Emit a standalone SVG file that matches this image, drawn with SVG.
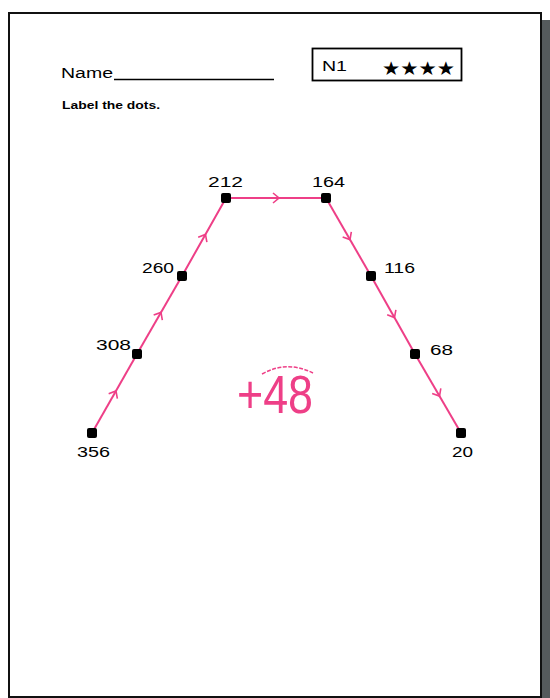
<svg xmlns="http://www.w3.org/2000/svg" width="550" height="698" viewBox="0 0 550 698">
<style>
.lbl{font-family:"Liberation Sans",Arial,sans-serif;font-size:14px;fill:#000}
.seg{fill:none;stroke:#ee3f87;stroke-width:2;marker-mid:url(#chev)}
.dot{fill:#000}
</style>
<defs>
<marker id="chev" viewBox="-6 -6 12 12" markerWidth="12" markerHeight="12" markerUnits="userSpaceOnUse" orient="auto" refX="0" refY="0">
<path d="M-3,-5 L3,0 L-3,5" fill="none" stroke="#ee3f87" stroke-width="1.6"/>
</marker>
</defs>
<rect x="0" y="0" width="550" height="698" fill="#fff"/>
<rect x="542" y="20" width="8" height="678" fill="#555a5c"/>
<rect x="9" y="13" width="532" height="684" fill="#fff" stroke="#111" stroke-width="2"/>
<g id="header">
<text x="61" y="78" class="lbl" font-size="16" textLength="52" lengthAdjust="spacingAndGlyphs">Name</text>
<line x1="114" y1="79.5" x2="274" y2="79.5" stroke="#000" stroke-width="1.6"/>
<text x="62" y="109" font-family="Liberation Sans,Arial,sans-serif" font-size="10" font-weight="bold" textLength="98" lengthAdjust="spacingAndGlyphs">Label the dots.</text>
<rect x="312.5" y="48.5" width="149" height="32" fill="none" stroke="#000" stroke-width="1.8"/>
<text x="322" y="71" class="lbl" font-size="17" textLength="25" lengthAdjust="spacingAndGlyphs">N1</text>
<text x="382" y="75" font-family="DejaVu Sans,sans-serif" font-size="19" textLength="73" lengthAdjust="spacingAndGlyphs">★★★★</text>
</g>
<g id="connectors">
<path class="seg" d="M92,433 L114.5,393.5 L137,354"/>
<path class="seg" d="M137,354 L159.5,315 L182,276"/>
<path class="seg" d="M182,276 L204,237 L226,198"/>
<path class="seg" d="M226,198 L276,198 L326,198"/>
<path class="seg" d="M326,198 L348.5,237 L371,276"/>
<path class="seg" d="M371,276 L393,315 L415,354"/>
<path class="seg" d="M415,354 L438,393.5 L461,433"/>
</g>
<g id="n356"><rect class="dot" x="87" y="428" width="10" height="10" rx="2"/><text class="lbl" x="77" y="457" textLength="33" lengthAdjust="spacingAndGlyphs">356</text></g>
<g id="n308"><rect class="dot" x="132" y="349" width="10" height="10" rx="2"/><text class="lbl" x="96" y="350" textLength="35" lengthAdjust="spacingAndGlyphs">308</text></g>
<g id="n260"><rect class="dot" x="177" y="271" width="10" height="10" rx="2"/><text class="lbl" x="142" y="273" textLength="32" lengthAdjust="spacingAndGlyphs">260</text></g>
<g id="n212"><rect class="dot" x="221" y="193" width="10" height="10" rx="2"/><text class="lbl" x="208" y="187" textLength="35" lengthAdjust="spacingAndGlyphs">212</text></g>
<g id="n164"><rect class="dot" x="321" y="193" width="10" height="10" rx="2"/><text class="lbl" x="312" y="187" textLength="33" lengthAdjust="spacingAndGlyphs">164</text></g>
<g id="n116"><rect class="dot" x="366" y="271" width="10" height="10" rx="2"/><text class="lbl" x="384" y="273" textLength="31" lengthAdjust="spacingAndGlyphs">116</text></g>
<g id="n68"><rect class="dot" x="410" y="349" width="10" height="10" rx="2"/><text class="lbl" x="430" y="355" textLength="23" lengthAdjust="spacingAndGlyphs">68</text></g>
<g id="n20"><rect class="dot" x="456" y="428" width="10" height="10" rx="2"/><text class="lbl" x="452" y="457" textLength="21" lengthAdjust="spacingAndGlyphs">20</text></g>
<g id="rule">
<text x="237" y="413" font-family="Liberation Sans,Arial,sans-serif" font-size="54" fill="#ee3f87" textLength="76" lengthAdjust="spacingAndGlyphs">+48</text>
<path d="M262,374 Q287,360 313,373" fill="none" stroke="#ee3f87" stroke-width="1.5" stroke-dasharray="4 1.5"/>
</g>
</svg>
